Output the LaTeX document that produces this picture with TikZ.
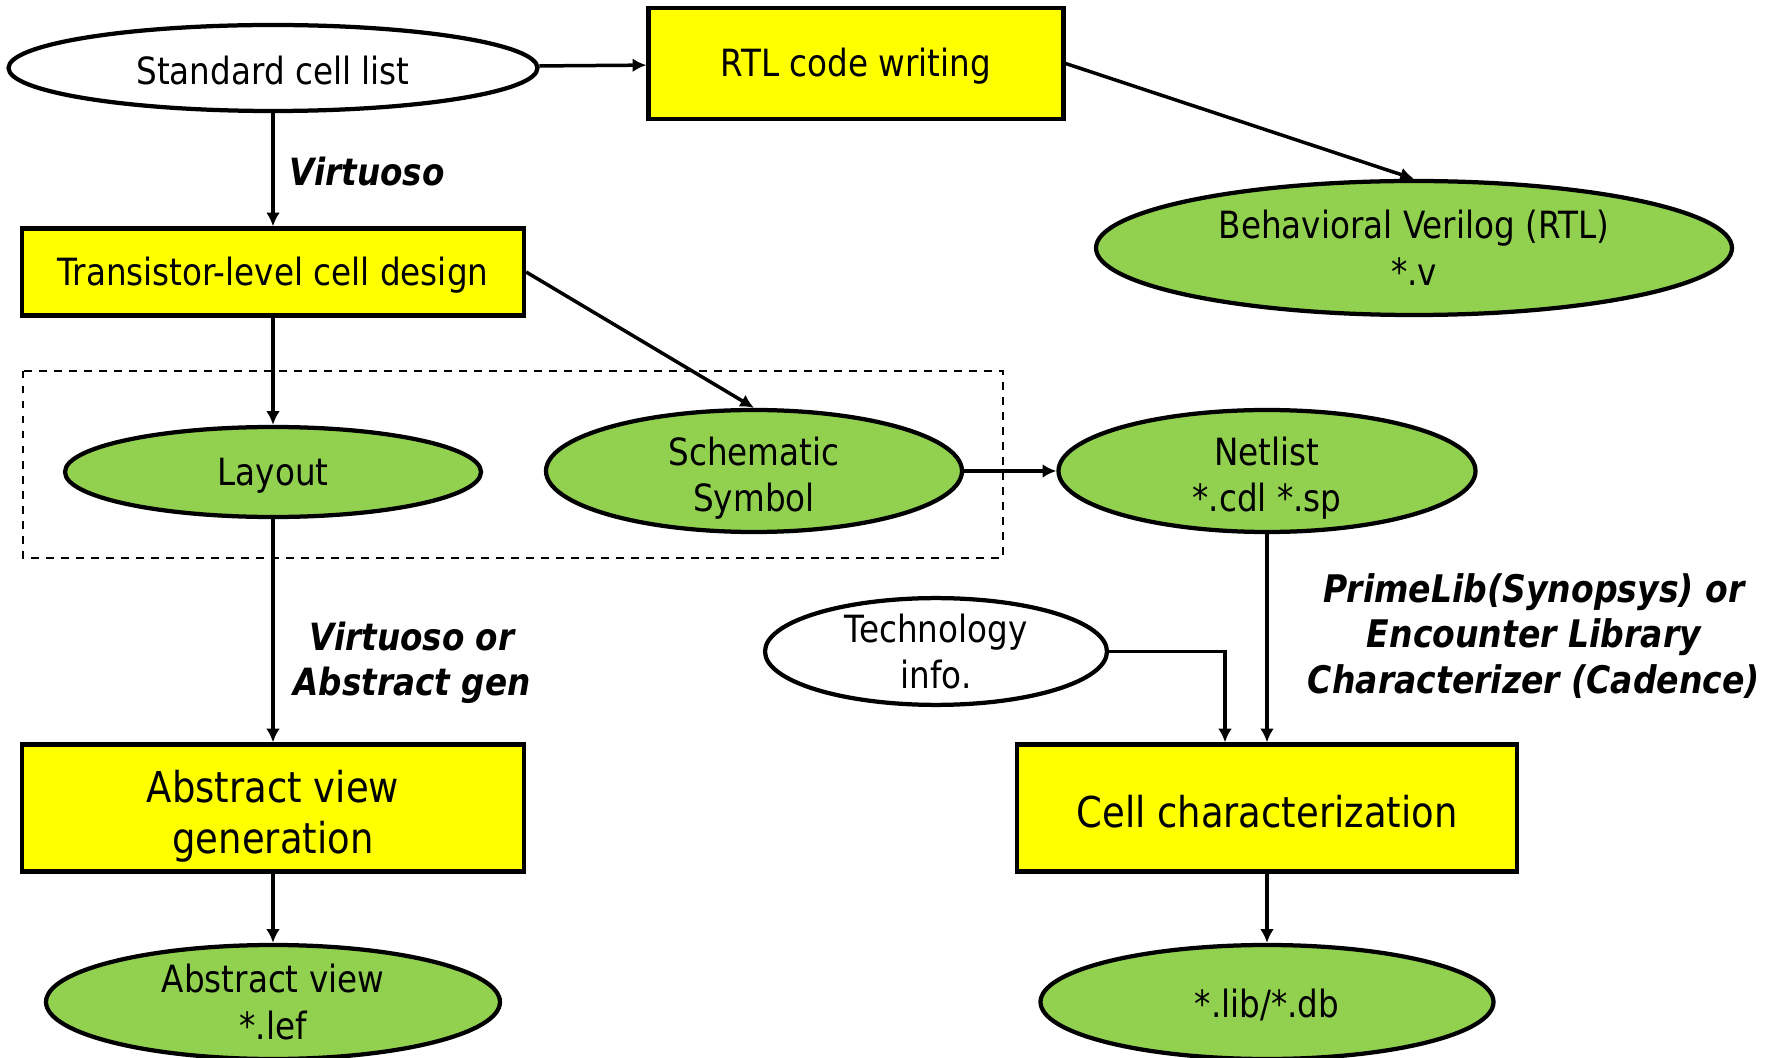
\documentclass[tikz,border=0pt]{standalone}
\usepackage{fontspec}
\setmainfont{DejaVu Sans}[FakeStretch=0.87]
\usetikzlibrary{shapes,arrows.meta}
\definecolor{cellyellow}{RGB}{255,255,0}
\definecolor{cellgreen}{RGB}{146,208,80}
\newcommand{\firststrut}{\rule{0pt}{1.15em}}

\begin{document}
\begin{tikzpicture}[x=0.4pt,y=-0.4pt,
    block_task/.style ={rectangle, draw=black, line width=1.7pt, fill=cellyellow,
      align=center, inner sep=0pt, font=\fontsize{15}{18}\selectfont,
      execute at begin node={\rule{0pt}{0.92em}}},
    block_big/.style ={block_task, font=\fontsize{17}{20.4}\selectfont},
    block_file/.style ={ellipse, draw=black, line width=1.7pt, fill=cellgreen,
      align=center, inner sep=0pt, font=\fontsize{15}{18.6}\selectfont,
      execute at begin node={\rule{0pt}{0.92em}}},
    block_input/.style ={block_file, fill=white},
    block_tool/.style ={rectangle, draw=none, fill=none, align=center,
      inner sep=0pt, font=\fontsize{15}{18.2}\selectfont\bfseries\itshape},
    line/.style ={draw, line width=1.4pt, -{Latex[length=5.5pt,width=5.5pt]}, shorten >=0pt}]
    \useasboundingbox (0,0) rectangle (1775,1058);
    % group of the cell views
    \draw[line width=1pt, dashed] (23,371) rectangle (1003,558);
    % top row
    \node [block_input, minimum width=211.6pt, minimum height=34.4pt] (stdlist) at (273,68) {Standard cell list};
    \node [block_task, minimum width=166pt, minimum height=44.4pt] (rtl) at (856,63.5) {RTL code writing};
    \node [block_file, minimum width=254.4pt, minimum height=53.6pt] (verilog) at (1414,248) {Behavioral Verilog (RTL)\\*.v};
    % cell design
    \node [block_task, minimum width=200.8pt, minimum height=34.8pt] (transistor) at (273,272) {Transistor-level cell design};
    \node [block_file, minimum width=166.4pt, minimum height=36pt] (layout) at (273,472) {Layout};
    \node [block_file, inner ysep=-4pt, minimum width=166.4pt, minimum height=48.8pt] (schematic) at (754,471) {\firststrut Schematic\\Symbol};
    \node [block_file, inner ysep=-4pt, minimum width=166.8pt, minimum height=48.8pt] (netlist) at (1267,471) {\firststrut Netlist\\*.cdl *.sp};
    \node [block_input, minimum width=136.8pt, minimum height=40.4pt] (techinfo) at (936,651.5) {Technology\\info.};
    % generation and characterization
    \node [block_big, minimum width=200.8pt, minimum height=50.8pt] (absgen) at (273,808) {\firststrut Abstract view\\generation};
    \node [block_big, minimum width=200pt, minimum height=50.8pt] (cellchar) at (1267,808) {Cell characterization};
    \node [block_file, minimum width=181.6pt, minimum height=45.6pt] (abslef) at (273,1002) {Abstract view\\*.lef};
    \node [block_file, minimum width=181.2pt, minimum height=45.6pt] (libdb) at (1267,1002) {*.lib/*.db};
    % tool names
    \node [block_tool, anchor=west] (tool1) at (289,172) {Virtuoso};
    \node [block_tool] (tool2) at (412,663) {Virtuoso or\\Abstract gen};
    \node [block_tool, font=\fontsize{15.2}{18.3}\selectfont\bfseries\itshape] (tool3) at (1534,636) {PrimeLib(Synopsys) or\\Encounter Library\\Characterizer (Cadence)};
    % connecting nodes with paths
    \begin{scope}[every path/.style=line]
      \path (stdlist) -- (rtl);
      \path (stdlist) -- (transistor);
      \path (rtl.east) -- (verilog.north);
      \path (transistor.east) -- (schematic.north);
      \path (transistor) -- (layout);
      \path (schematic) -- (netlist);
      \path (layout) -- (absgen);
      \path (absgen) -- (abslef);
      \path (netlist) -- (cellchar);
      \path (techinfo.east) -| ([xshift=-16.8pt]cellchar.north);
      \path (cellchar) -- (libdb);
    \end{scope}
\end{tikzpicture}
\end{document}
